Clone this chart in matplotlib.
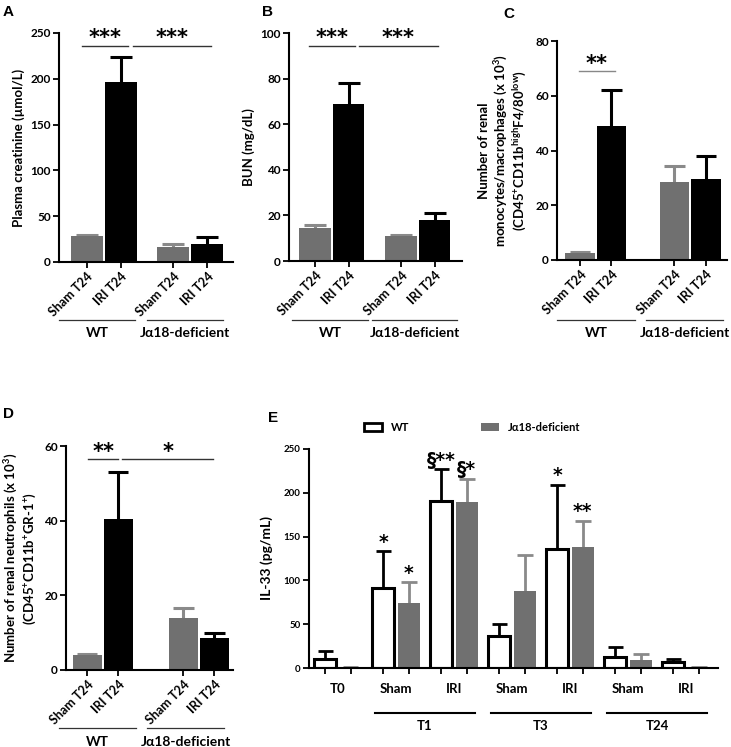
import numpy as np
import matplotlib
matplotlib.use("Agg")
import matplotlib.pyplot as plt
from matplotlib.patches import Patch

plt.rcParams['font.family'] = ['Lato', 'DejaVu Sans']
plt.rcParams['font.weight'] = 'bold'
plt.rcParams['axes.labelweight'] = 'bold'
plt.rcParams['mathtext.fontset'] = 'custom'
plt.rcParams['mathtext.rm'] = 'Lato:bold'
plt.rcParams['mathtext.it'] = 'Lato:bold'
plt.rcParams['mathtext.bf'] = 'Lato:bold'
plt.rcParams['mathtext.default'] = 'rm'

GRAY = '#707070'
GRAY_ERR = '#8a8a8a'
STAR_FONT = ['DejaVu Sans']

# ---- data panels A-D (Sham WT, IRI WT, Sham Ja18, IRI Ja18) ----
bar_labels = ['Sham T24', 'IRI T24', 'Sham T24', 'IRI T24']
group_labels = ['WT', 'J\u03b118-deficient']

creat_mean = [28, 197, 16, 20]
creat_top = [29, 224, 20, 27]

bun_mean = [14.5, 69, 11, 18]
bun_top = [16, 78, 11.4, 21]

mono_mean = [2.5, 49, 28.5, 29.5]
mono_top = [3, 62, 34.5, 38]

neut_mean = [4, 40.5, 14, 8.7]
neut_top = [4.4, 53, 16.5, 9.8]

# ---- panel E ----
e_groups = ['T0', 'Sham', 'IRI', 'Sham', 'IRI', 'Sham', 'IRI']
e_time = ['T1', 'T3', 'T24']
il33_wt = [10, 91, 191, 36, 136, 12, 7]
il33_wt_top = [19.5, 133, 227, 50, 209, 24, 10]
il33_ko = [1, 74, 189, 88, 138, 9, 0.5]
il33_ko_top = [1.5, 98, 216, 129, 168, 16, 0.8]
il33_wt_sig = ['', '*', '\u00a7**', '', '*', '', '']
il33_ko_sig = ['', '*', '\u00a7*', '', '**', '', '']

fig = plt.figure(figsize=(7.31, 7.47), dpi=100)
W, H = 731, 747


def add_ax(x0, x1, y0, y1):
    return fig.add_axes([x0 / W, 1 - y1 / H, (x1 - x0) / W, (y1 - y0) / H])


def style(ax, ymax, step, fs=8.5):
    ax.spines['top'].set_visible(False)
    ax.spines['right'].set_visible(False)
    ax.spines['left'].set_linewidth(1.5)
    ax.spines['bottom'].set_linewidth(1.5)
    ax.set_ylim(0, ymax)
    ax.set_yticks(np.arange(0, ymax + 1, step))
    ax.tick_params(axis='both', width=1.3, length=4, labelsize=fs, pad=2)


def up_err(ax, x, mean, top, width, color, lw=2.2):
    for xi, m, t in zip(x, mean, top):
        if t <= m:
            continue
        ax.vlines(xi, m, t, color=color, lw=lw, zorder=1)
        ax.hlines(t, xi - width / 2, xi + width / 2, color=color, lw=lw, zorder=1)


def stars(ax, x, y, txt, fs, dy=1):
    ax.annotate(txt, (x, y), xytext=(0, dy), textcoords='offset points',
                ha='center', va='baseline', fontsize=fs, fontweight='bold',
                family=STAR_FONT, annotation_clip=False)


def small_panel(ax, pos, mean, top, xlim, ymax, step, ylabel, sig, glines, gy, lab_y, ylab_fs=9.5):
    w = 0.94
    colors = [GRAY, 'black', GRAY, 'black']
    ecol = [GRAY_ERR, 'black', GRAY_ERR, 'black']
    ax.bar(pos, mean, width=w, color=colors, edgecolor='none', zorder=2)
    for i in range(4):
        up_err(ax, [pos[i]], [mean[i]], [top[i]], w * 0.7, ecol[i])
    style(ax, ymax, step)
    ax.set_xlim(*xlim)
    ax.set_xticks(pos)
    ax.set_xticklabels(bar_labels, rotation=45, ha='right', rotation_mode='anchor', fontsize=9)
    ax.set_ylabel(ylabel, fontsize=ylab_fs, labelpad=4)
    for (x0, x1, y, txt, col) in sig:
        ax.plot([x0, x1], [y, y], color=col, lw=1, clip_on=False)
        stars(ax, (x0 + x1) / 2, y, txt, 15, dy=1)
    tr = ax.get_xaxis_transform()
    for (x0, x1), lab in zip(glines, group_labels):
        ax.plot([x0, x1], [gy, gy], color='#333333', lw=0.9, transform=tr, clip_on=False)
        ax.text((x0 + x1) / 2, lab_y, lab, ha='center', va='center', fontsize=10,
                transform=tr)


# A
axA = add_ax(59, 233, 33, 262)
small_panel(axA, [0, 1, 2.53, 3.53], creat_mean, creat_top, (-0.82, 4.29), 250, 50,
            'Plasma creatinine (\u00b5mol/L)',
            [(-0.15, 1.2, 236, '***', '#333333'), (1.35, 3.65, 236, '***', '#333333')],
            [(-0.82, 1.41), (1.76, 4.0)], -0.253, -0.31)

# B
axB = add_ax(289, 462, 33, 261)
small_panel(axB, [0, 1, 2.57, 3.57], bun_mean, bun_top, (-0.78, 4.39), 100, 20,
            'BUN (mg/dL)',
            [(-0.18, 1.19, 94.5, '***', '#333333'), (1.31, 3.67, 94.5, '***', '#333333')],
            [(-0.69, 1.58), (1.70, 4.24)], -0.258, -0.315)

# C
axC = add_ax(557, 727, 41, 260)
small_panel(axC, [0, 1, 3, 4], mono_mean, mono_top, (-0.73, 4.67), 80, 20,
            'Number of renal\nmonocytes/macrophages (x 10$^{3}$)\n(CD45$^{+}$CD11b$^{high}$F4/80$^{low}$)',
            [(-0.03, 1.11, 69, '**', '#888888')],
            [(-0.73, 1.75), (2.1, 4.54)], -0.274, -0.335)

# D
axD = add_ax(66, 233, 446, 670)
small_panel(axD, [0, 1, 3.1, 4.1], neut_mean, neut_top, (-0.68, 4.7), 60, 20,
            'Number of renal neutrophils (x 10$^{3}$)\n(CD45$^{+}$CD11b$^{+}$GR-1$^{+}$)',
            [(0.03, 1.0, 56.5, '**', '#333333'), (1.13, 4.06, 56.5, '*', '#333333')],
            [(-0.9, 1.58), (1.94, 4.4)], -0.259, -0.32)

# E
axE = add_ax(309, 718, 449, 668)
xg = np.arange(len(e_groups))
off = 0.22
bw = 0.38
axE.bar(xg - off, il33_wt, width=bw, color='white', edgecolor='black', lw=2.2, zorder=2)
axE.bar(xg + off, il33_ko, width=bw, color=GRAY, edgecolor='none', zorder=2)
up_err(axE, xg - off, il33_wt, il33_wt_top, bw * 0.7, 'black', lw=2)
up_err(axE, xg + off, il33_ko, il33_ko_top, bw * 0.7, GRAY_ERR, lw=2)
style(axE, 250, 50, fs=7)
axE.set_xlim(-0.5, 6.55)
axE.set_xticks(np.concatenate([xg - off, xg + off]))
axE.set_xticklabels([])
axE.set_ylabel('IL-33 (pg/mL)', fontsize=10, labelpad=8)
for xi, t, s in zip(xg - off, il33_wt_top, il33_wt_sig):
    if s:
        stars(axE, xi, t, s, 13.5, dy=2.5)
for xi, t, s in zip(xg + off, il33_ko_top, il33_ko_sig):
    if s:
        stars(axE, xi, t, s, 13.5, dy=2.5)
trE = axE.get_xaxis_transform()
for xi, lab in zip(xg, e_groups):
    axE.text(xi, -0.095, lab, ha='center', va='center', fontsize=9.5, transform=trE)
for k, lab in enumerate(e_time):
    x0, x1 = 2 * k + 1 - 0.36, 2 * k + 2 + 0.36
    axE.plot([x0, x1], [-0.205, -0.205], color='black', lw=1.5, transform=trE, clip_on=False)
    axE.text((x0 + x1) / 2, -0.265, lab, ha='center', va='center', fontsize=9.5, transform=trE)
handles = [Patch(facecolor='white', edgecolor='black', lw=2, label='WT'),
           Patch(facecolor=GRAY, edgecolor='none', label='J\u03b118-deficient')]
axE.legend(handles=handles, loc='center left', bbox_to_anchor=(0.11, 1.1), ncol=2,
           frameon=False, fontsize=8, handlelength=1.6, handleheight=0.7,
           columnspacing=6.5, handletextpad=0.8)

# panel letters
for x, y, l in [(3, 12, 'A'), (262, 12, 'B'), (503, 14, 'C'), (3, 414, 'D'), (268, 418, 'E')]:
    fig.text(x / W, 1 - y / H, l, fontsize=11, fontweight='bold', family='Liberation Sans',
             va='center', ha='left')

fig.savefig('out.png', dpi=100)
